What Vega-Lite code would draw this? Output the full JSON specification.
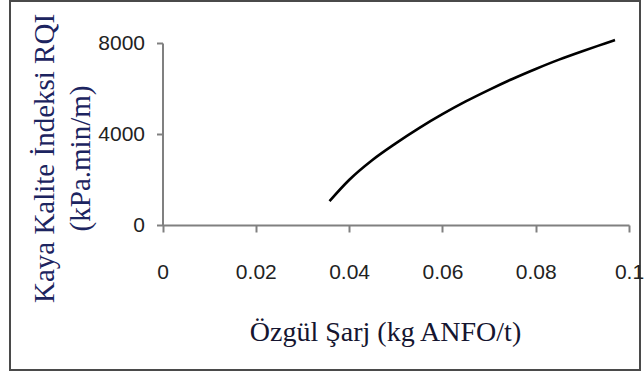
{
  "$schema": "https://vega.github.io/schema/vega-lite/v6.json",
  "autosize": "none",
  "padding": {"left": 10, "top": 1, "right": 4, "bottom": 4},
  "width": 630,
  "height": 369,
  "background": "white",
  "config": {
    "view": {"stroke": "#4a4a4a", "strokeWidth": 2}
  },
  "data": {
    "values": [
      {"q": 0.0358, "rqi": 1050},
      {"q": 0.040, "rqi": 1980},
      {"q": 0.045, "rqi": 2860},
      {"q": 0.050, "rqi": 3590},
      {"q": 0.055, "rqi": 4260},
      {"q": 0.060, "rqi": 4870},
      {"q": 0.065, "rqi": 5430},
      {"q": 0.070, "rqi": 5940},
      {"q": 0.075, "rqi": 6420},
      {"q": 0.080, "rqi": 6860},
      {"q": 0.085, "rqi": 7270},
      {"q": 0.090, "rqi": 7640},
      {"q": 0.095, "rqi": 7990},
      {"q": 0.097, "rqi": 8130}
    ]
  },
  "mark": {"type": "line", "color": "#000000", "strokeWidth": 2.6, "interpolate": "monotone", "clip": false},
  "encoding": {
    "x": {
      "field": "q",
      "type": "quantitative",
      "scale": {"domain": [0, 0.1], "range": [152.5, 619], "nice": false, "zero": false},
      "axis": {
        "orient": "bottom",
        "offset": -145,
        "values": [0, 0.02, 0.04, 0.06, 0.08, 0.1],
        "format": "~g",
        "grid": false,
        "domainColor": "#808080",
        "domainWidth": 2,
        "tickColor": "#808080",
        "tickWidth": 2,
        "tickSize": 7,
        "labelFont": "Liberation Sans",
        "labelFontSize": 21,
        "labelColor": "#222222",
        "labelPadding": 29,
        "labelFlush": false,
        "title": "Özgül Şarj (kg ANFO/t)",
        "titleFont": "Liberation Serif",
        "titleFontSize": 28,
        "titleFontWeight": "normal",
        "titleColor": "#151530",
        "titleX": 375,
        "titleY": 107,
        "titleAlign": "center",
        "titleBaseline": "middle"
      }
    },
    "y": {
      "field": "rqi",
      "type": "quantitative",
      "scale": {"domain": [0, 8000], "range": [224, 42], "nice": false, "zero": false},
      "axis": {
        "orient": "left",
        "offset": -152.5,
        "values": [0, 4000, 8000],
        "format": "d",
        "grid": false,
        "domainColor": "#808080",
        "domainWidth": 2,
        "tickColor": "#808080",
        "tickWidth": 2,
        "tickSize": 6,
        "labelFont": "Liberation Sans",
        "labelFontSize": 21,
        "labelColor": "#222222",
        "labelPadding": 12,
        "labelFlush": false,
        "title": ["Kaya Kalite İndeksi RQI", "(kPa.min/m)"],
        "titleFont": "Liberation Serif",
        "titleFontSize": 29,
        "titleFontWeight": "normal",
        "titleColor": "#1c2460",
        "titleAngle": -90,
        "titleLineHeight": 36,
        "titleX": -118.5,
        "titleY": 157,
        "titleAlign": "center",
        "titleBaseline": "middle"
      }
    }
  }
}
